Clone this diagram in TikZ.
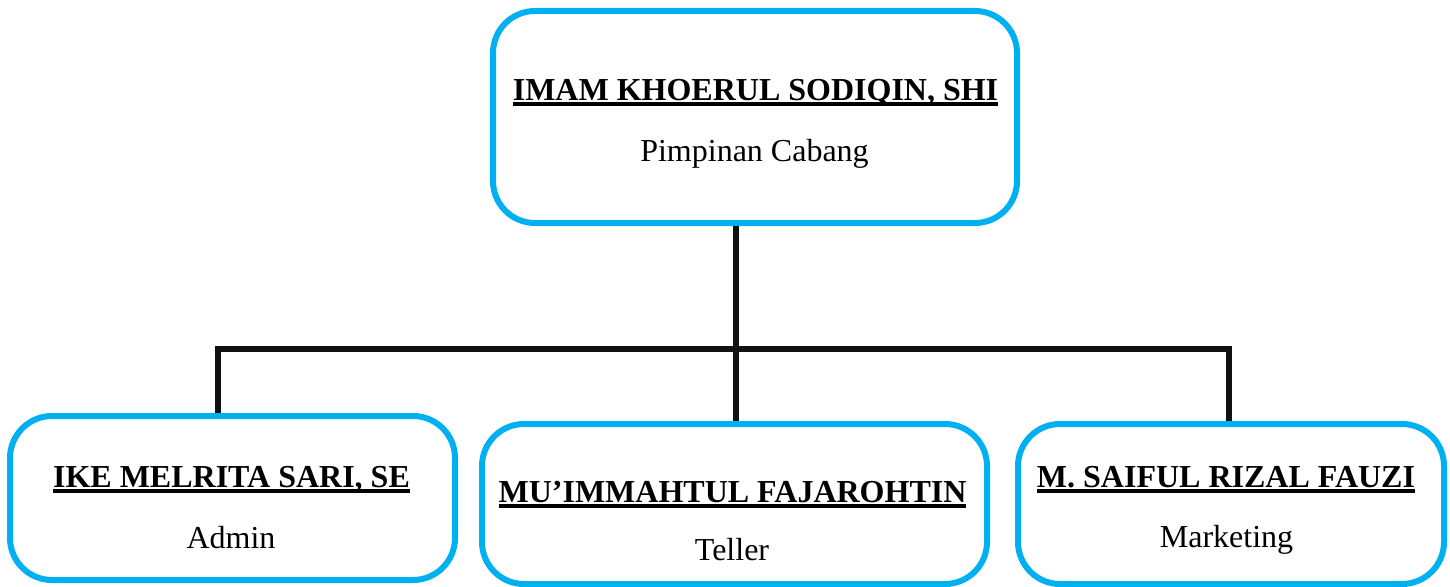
\documentclass[tikz,border=0pt]{standalone}
\usepackage{fontspec}
\setmainfont{Liberation Serif}
\definecolor{boxblue}{HTML}{00B0F0}
\definecolor{connblack}{HTML}{111111}
\newcommand\myul[1]{\setbox0\hbox{#1}\rlap{\rule[-6.2pt]{\wd0}{4pt}}\box0}
\begin{document}
\begin{tikzpicture}[x=1pt,y=-1pt,
  orgbox/.style={draw=boxblue, line width=6pt, rounded corners=42pt, fill=white, inner sep=0pt},
  conn/.style={draw=connblack, line width=5.5pt, line join=miter},
  nametext/.style={font=\fontsize{32}{36}\selectfont\bfseries, inner sep=0pt, anchor=base},
  roletext/.style={font=\fontsize{32}{36}\selectfont, inner sep=0pt, anchor=base}]
\useasboundingbox (0,0) rectangle (1450,586);
% connector junctions
\coordinate (busL) at (218,349);
\coordinate (busR) at (1229,349);
\coordinate (busM) at (736,349);
% boxes
\node[orgbox, minimum width=524pt, minimum height=212pt] (top) at (755,117) {};
\node[orgbox, minimum width=445pt, minimum height=164pt] (left) at (232.5,498) {};
\node[orgbox, minimum width=505pt, minimum height=160pt] (mid) at (734.5,504) {};
\node[orgbox, minimum width=426pt, minimum height=160pt] (right) at (1231,504) {};
\draw[conn] (top.south -| busM) -- (mid.north -| busM);
\draw[conn] (left.north -| busL) -- (busL) -- (busR) -- (right.north -| busR);
% texts
\node[nametext] (topname) at (755.5,100) {\myul{IMAM KHOERUL SODIQIN, SHI}};
\node[roletext] (toprole) at (754.5,161) {Pimpinan Cabang};
\node[nametext] (leftname) at (231.5,487) {\myul{IKE MELRITA SARI, SE}};
\node[roletext] (leftrole) at (231,548) {Admin};
\node[nametext] (midname) at (732.5,502) {\myul{MU’IMMAHTUL FAJAROHTIN}};
\node[roletext] (midrole) at (732,560) {Teller};
\node[nametext] (rightname) at (1226,487) {\myul{M. SAIFUL RIZAL FAUZI}};
\node[roletext] (rightrole) at (1226.5,547) {Marketing};
\end{tikzpicture}
\end{document}
